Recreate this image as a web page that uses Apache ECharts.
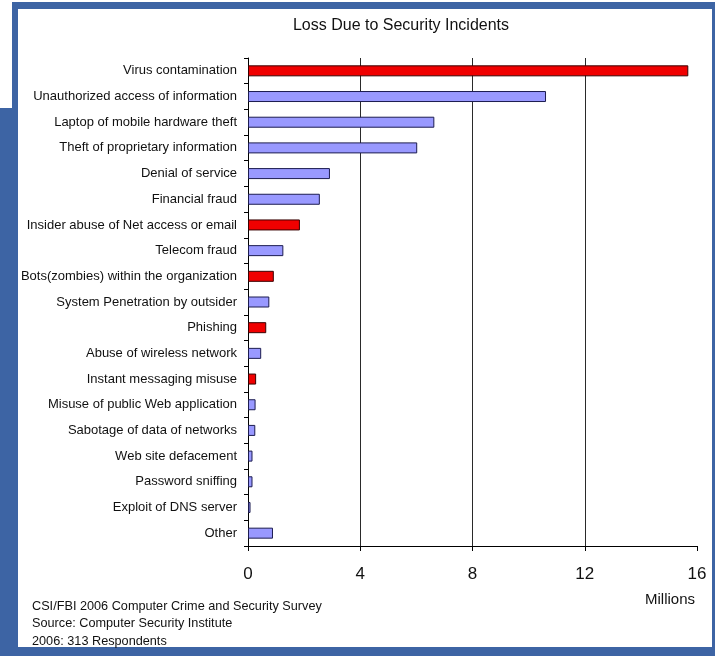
<!DOCTYPE html>
<html>
<head>
<meta charset="utf-8">
<script src="https://cdn.jsdelivr.net/npm/echarts@6/dist/echarts.min.js"></script>
<style>
html,body{margin:0;padding:0;background:#fff;}
#chart{width:715px;height:656px;}
</style>
</head>
<body>
<div id="chart"></div>
<script>
// ---- Data ----
var categories = [
  'Virus contamination',
  'Unauthorized access of information',
  'Laptop of mobile hardware theft',
  'Theft of proprietary information',
  'Denial of service',
  'Financial fraud',
  'Insider abuse of Net access or email',
  'Telecom fraud',
  'Bots(zombies) within the organization',
  'System Penetration by outsider',
  'Phishing',
  'Abuse of wireless network',
  'Instant messaging misuse',
  'Misuse of public Web application',
  'Sabotage of data of networks',
  'Web site defacement',
  'Password sniffing',
  'Exploit of DNS server',
  'Other'
];
var lossMillions = [15.69, 10.62, 6.64, 6.03, 2.92, 2.56, 1.85, 1.26, 0.92, 0.76, 0.65, 0.47, 0.29, 0.27, 0.26, 0.16, 0.16, 0.09, 0.89];
var highlighted = ['Virus contamination', 'Insider abuse of Net access or email', 'Bots(zombies) within the organization', 'Phishing', 'Instant messaging misuse'];
var xTicks = [0, 4, 8, 12, 16];
var titleText = 'Loss Due to Security Incidents';
var unitText = 'Millions';
var footnotes = ['CSI/FBI 2006 Computer Crime and Security Survey', 'Source: Computer Security Institute', '2006: 313 Respondents'];

// ---- Chart ----
var FONT = '"Liberation Sans", Arial, sans-serif';
var BLUE = '#3d64a4';
var chart = echarts.init(document.getElementById('chart'), null, {renderer: 'canvas'});

var barData = categories.map(function (c, i) {
  var hi = highlighted.indexOf(c) >= 0;
  return {
    value: lossMillions[i],
    itemStyle: {
      color: hi ? '#f00000' : '#9999ff',
      borderColor: hi ? '#3a0000' : '#1c1c50',
      borderWidth: 1
    }
  };
});

var graphics = [
  {type: 'rect', z: -10, shape: {x: 0, y: 108, width: 14, height: 548}, style: {fill: BLUE}, silent: true},
  {type: 'rect', z: -10, shape: {x: 12, y: 2, width: 703, height: 654}, style: {fill: BLUE}, silent: true},
  {type: 'rect', z: -9, shape: {x: 18, y: 9, width: 694, height: 638}, style: {fill: '#fff'}, silent: true},
  {type: 'text', x: 401, y: 26, style: {text: titleText, font: '16px ' + FONT, fill: '#111', align: 'center', verticalAlign: 'middle'}},
  {type: 'text', x: 695, y: 600, style: {text: unitText, font: '15px ' + FONT, fill: '#111', align: 'right', verticalAlign: 'middle'}}
];
footnotes.forEach(function (t, i) {
  graphics.push({type: 'text', x: 32, y: 606 + i * 17.5, style: {text: t, font: '12.7px ' + FONT, fill: '#111', align: 'left', verticalAlign: 'middle'}});
});

chart.setOption({
  animation: false,
  backgroundColor: '#fff',
  grid: {left: 248, right: 18, top: 58, bottom: 110, containLabel: false},
  xAxis: {
    type: 'value',
    min: xTicks[0],
    max: xTicks[xTicks.length - 1],
    interval: xTicks[1] - xTicks[0],
    axisLine: {show: true, lineStyle: {color: '#000', width: 1}},
    axisTick: {show: true, length: 5, lineStyle: {color: '#000'}},
    axisLabel: {color: '#111', fontSize: 17, fontFamily: FONT, margin: 20},
    splitLine: {show: true, showMinLine: false, showMaxLine: false, lineStyle: {color: '#2a2a2a', width: 1}}
  },
  yAxis: {
    type: 'category',
    data: categories,
    inverse: true,
    axisLine: {show: true, lineStyle: {color: '#000', width: 1}},
    axisTick: {show: true, length: 4, alignWithLabel: false, lineStyle: {color: '#000'}},
    axisLabel: {color: '#111', fontSize: 13, fontFamily: FONT, margin: 11}
  },
  series: [{
    type: 'bar',
    data: barData,
    barWidth: 11
  }],
  graphic: graphics
});
</script>
</body>
</html>
